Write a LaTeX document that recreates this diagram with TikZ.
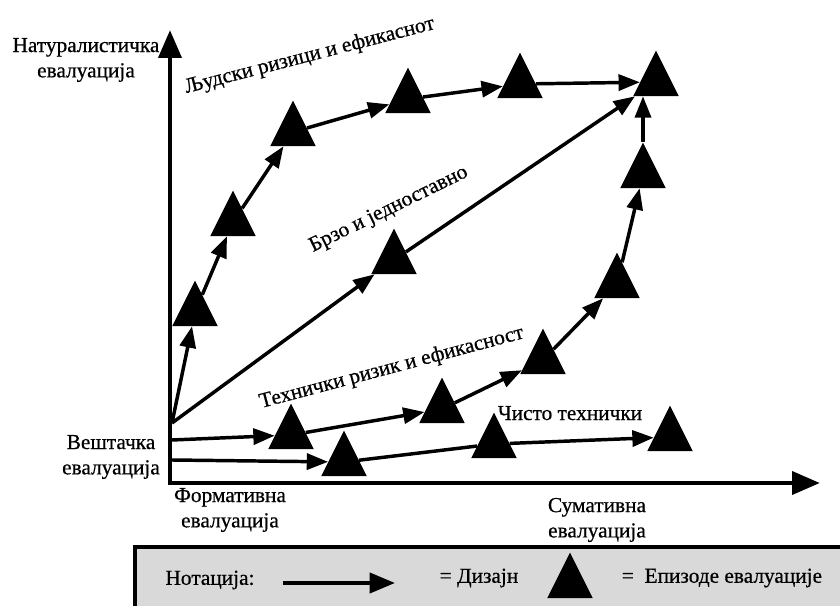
\documentclass[tikz,border=0pt]{standalone}
\usepackage{fontspec}
\setmainfont{Liberation Serif}[FakeBold=0.6]
\usetikzlibrary{arrows.meta,shapes.geometric}
\begin{document}
\begin{tikzpicture}[x=0.75pt,y=-0.75pt,
  axis/.style={line width=3.6pt, -{Triangle[length=21pt,width=17pt]}},
  design/.style={line width=2.6pt, -{Triangle[length=16pt,width=12pt]}},
  link/.style={line width=2.6pt},
  episode/.style={isosceles triangle, isosceles triangle stretches,
    shape border rotate=90, fill=black, inner sep=0pt,
    minimum width=34pt, minimum height=34pt, anchor=apex},
  lbl/.style={font=\fontsize{16pt}{19pt}\selectfont, inner sep=0pt},
  axlbl/.style={lbl, align=center},
]
\useasboundingbox (0,0) rectangle (840,606);
\clip (0,0) rectangle (840,606);

% axes
\coordinate (ytop) at (170,30);
\coordinate (xend) at (820,483);
\draw[axis] (170,485) -- (ytop);
\draw[axis] (168,483) -- (xend);

% axis labels
\node[axlbl] (nat) at (86,60) {Натуралистичка\\евалуација};
\node[axlbl] (art) at (111,457) {Вештачка\\евалуација};
\node[axlbl] (form) at (230,510) {Формативна\\евалуација};
\node[axlbl] (sum) at (597,520) {Сумативна\\евалуација};

% starting points on the vertical axis
\coordinate (sH) at (172,423);
\coordinate (sT) at (172,440);
\coordinate (sP) at (172,460);

% evaluation episodes: human risk path
\node[episode] (H1) at (195,280) {};
\node[episode] (H2) at (233,190) {};
\node[episode] (H3) at (293,100) {};
\node[episode] (H4) at (408,67) {};
\node[episode] (H5) at (520,52) {};
\node[episode] (H6) at (656,50) {};
% quick and simple
\node[episode] (B1) at (394,228) {};
% technical risk path
\node[episode] (T1) at (291,403) {};
\node[episode] (T2) at (442,377) {};
\node[episode] (T3) at (543,328) {};
\node[episode] (T4) at (617,252) {};
\node[episode] (T5) at (643,142) {};
% purely technical
\node[episode] (P1) at (344,430) {};
\node[episode] (P2) at (494,412) {};
\node[episode] (P3) at (670,405) {};

% design steps
\draw[design] (sH) -- (H1);
\draw[design] (H1) -- (H2);
\draw[design] (H2) -- (H3);
\draw[design] (H3) -- (H4);
\draw[design] (H4) -- (H5);
\draw[design] (H5) -- (H6);

\draw[design] (sH) -- (B1);
\draw[design] (B1) -- (H6);

\draw[design] (sT) -- (T1);
\draw[design] (T1) -- (T2);
\draw[design] (T2) -- (T3);
\draw[design] (T3) -- (T4);
\draw[design] (T4) -- (T5);
\draw[design] (T5) -- (T5 |- H6.south);

\draw[design] (sP) -- (P1);
\draw[link] (P1) -- (P2);
\draw[design] (P2) -- (P3);

% path labels
\node[lbl, anchor=base, rotate=14.5] (lH) at (311,61) {Људски ризици и ефикаснот};
\node[lbl, anchor=base, rotate=26] (lB) at (391,214) {Брзо и једноставно};
\node[lbl, anchor=base, rotate=14.9] (lT) at (393,373) {Технички ризик и ефикасност};
\node[lbl, anchor=base] (lP) at (570,420) {Чисто технички};

% notation box
\draw[line width=3pt, fill={rgb,255:red,217;green,217;blue,217}] (135,547) rectangle (860,630);
\node[lbl] (nt) at (210,580) {Нотација:};
\coordinate (la) at (283,583);
\coordinate (lb) at (395,583);
\draw[line width=3pt, -{Triangle[length=19pt,width=15pt]}] (la) -- (lb);
\node[lbl] (ld) at (479,578) {= Дизајн};
\node[episode] (le) at (570,552) {};
\node[lbl] (lep) at (722,578) {= \ Епизоде евалуације};
\end{tikzpicture}
\end{document}
